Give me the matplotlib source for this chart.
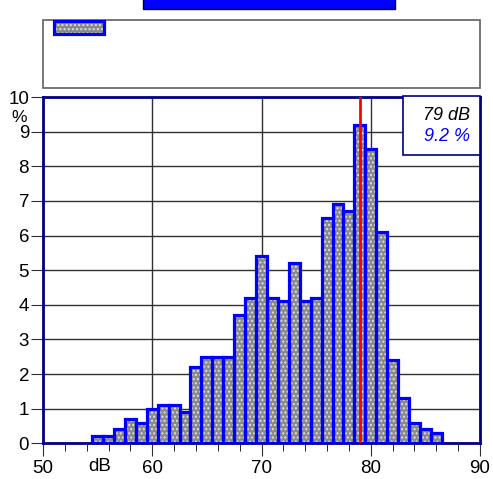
import matplotlib.pyplot as plt
from matplotlib.patches import Rectangle

plt.rcParams['font.family'] = ['Liberation Sans', 'DejaVu Sans']

# level classes (dB) and share of time (%)
levels = [55, 56, 57, 58, 59, 60, 61, 62, 63, 64, 65, 66, 67, 68, 69, 70,
          71, 72, 73, 74, 75, 76, 77, 78, 79, 80, 81, 82, 83, 84, 85, 86]
shares = [0.2, 0.2, 0.4, 0.7, 0.6, 1.0, 1.1, 1.1, 0.9, 2.2, 2.5, 2.5, 2.5, 3.7, 4.2, 5.4,
          4.2, 4.1, 5.2, 4.1, 4.2, 6.5, 6.9, 6.7, 9.2, 8.5, 6.1, 2.4, 1.3, 0.6, 0.4, 0.3]
x_ticks = [50, 60, 70, 80, 90]
y_ticks = list(range(0, 11))
cursor_level = 79
cursor_text = "79 dB"
cursor_value = "9.2 %"

navy = '#000080'
fig = plt.figure(figsize=(4.93, 4.79), dpi=100)
ax = fig.add_axes([43 / 493, 35.7 / 479, 437 / 493, 346.3 / 479])

# bars: hatched gray fill, then blue outline
ax.bar(levels, shares, width=1.0, color='#8a8a8a', edgecolor='#e0e0e0',
       hatch='....', linewidth=0, zorder=2)
ax.bar(levels, shares, width=1.0, fill=False, edgecolor='#0000ff',
       linewidth=2.3, zorder=3)
ax.axvline(cursor_level, color='red', lw=2, zorder=4)

ax.set_xlim(50, 90)
ax.set_ylim(0, 10)
ax.set_xticks(x_ticks)
ax.set_xticks(range(52, 90, 2), minor=True)
ax.set_yticks(y_ticks)
ax.tick_params(axis='both', labelsize=13.5, direction='out', color='#303030')
ax.tick_params(axis='y', length=9, pad=1)
ax.tick_params(axis='x', which='major', length=9, pad=3)
ax.tick_params(axis='x', which='minor', length=6)

ax.grid(True, which='major', color='#303030', lw=1, zorder=1)
for s in ax.spines.values():
    s.set_color(navy)
    s.set_linewidth(2)

ax.text(-0.055, 0.94, '%', transform=ax.transAxes, fontsize=12.5, ha='center', va='center')
ax.text(0.13, -0.068, 'dB', transform=ax.transAxes, fontsize=13.5, ha='center', va='center')

# cursor readout box in the upper right
fig.patches.append(Rectangle((403 / 493, 1 - 155 / 479), 77 / 493, 59 / 479,
                             transform=fig.transFigure, facecolor='white',
                             edgecolor=navy, lw=1.2, zorder=10))
fig.text(470 / 493, 1 - 115 / 479, cursor_text, fontsize=13, style='italic',
         ha='right', va='center', color='black', zorder=11)
fig.text(470 / 493, 1 - 137 / 479, cursor_value, fontsize=13, style='italic',
         ha='right', va='center', color='#0000ff', zorder=11)

# title bar and legend area
fig.patches.append(Rectangle((143 / 493, 1 - 9 / 479), 252 / 493, 12 / 479,
                             transform=fig.transFigure, facecolor='#0000ff',
                             edgecolor='black', lw=1))
fig.patches.append(Rectangle((43 / 493, 1 - 88 / 479), 437 / 493, 68 / 479,
                             transform=fig.transFigure, facecolor='white',
                             edgecolor='#606060', lw=1.2))
fig.patches.append(Rectangle((54 / 493, 1 - 34 / 479), 50 / 493, 13 / 479,
                             transform=fig.transFigure, facecolor='#8a8a8a',
                             edgecolor='#e0e0e0', hatch='....', lw=0))
fig.patches.append(Rectangle((54 / 493, 1 - 34 / 479), 50 / 493, 13 / 479,
                             transform=fig.transFigure, fill=False,
                             edgecolor='#0000ff', lw=2.3))

fig.savefig('out.png', dpi=100)
